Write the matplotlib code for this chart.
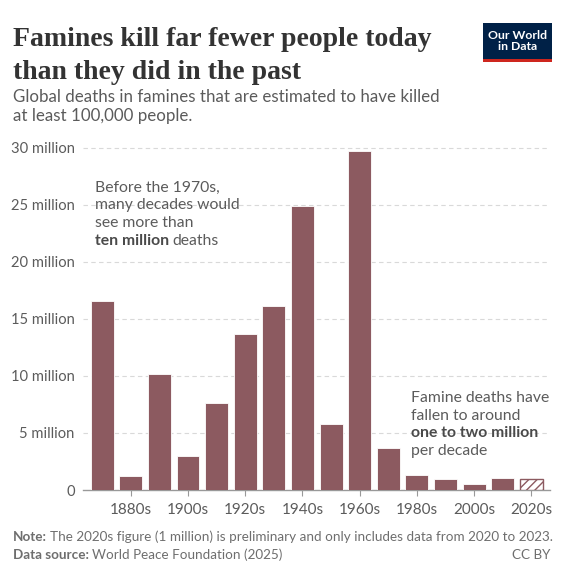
import numpy as np
import matplotlib.pyplot as plt
from matplotlib.patches import Rectangle

# data (deaths in millions per decade)
decades = ["1870s", "1880s", "1890s", "1900s", "1910s", "1920s", "1930s", "1940s",
           "1950s", "1960s", "1970s", "1980s", "1990s", "2000s", "2010s", "2020s"]
deaths = [16.6, 1.25, 10.2, 3.0, 7.65, 13.7, 16.1, 24.9,
          5.75, 29.7, 3.7, 1.3, 1.0, 0.5, 1.05, 1.0]
yticks = [0, 5, 10, 15, 20, 25, 30]
ytick_labels = ["0", "5 million", "10 million", "15 million", "20 million", "25 million", "30 million"]

bar_col = "#8c5a60"
txt_col = "#5b5b5b"
foot_col = "#6e6e6e"
plt.rcParams['font.family'] = ['Lato', 'DejaVu Sans']

W, H = 562, 576
fig = plt.figure(figsize=(W / 100, H / 100), dpi=100)
ax = fig.add_axes([83 / W, 1 - 490 / H, (550 - 83) / W, (490 - 142) / H])

x = np.arange(len(decades))
for i, v in enumerate(deaths):
    if decades[i] == "2020s":
        ax.bar(x[i], v, width=0.8, color="white", edgecolor=bar_col, hatch="////", linewidth=1, zorder=3)
    else:
        ax.bar(x[i], v, width=0.8, color=bar_col, edgecolor="white", linewidth=0.6, zorder=3)

ax.set_ylim(0, 30.5)
ax.set_xlim(-0.67, 15.65)
ax.set_yticks(yticks)
ax.set_yticklabels(ytick_labels, fontsize=10.6, color=txt_col)
ax.set_xticks(x[1::2])
ax.set_xticklabels(decades[1::2], fontsize=11, color=txt_col)
ax.tick_params(axis="y", length=0, pad=6)
ax.tick_params(axis="x", length=4, color="#999999", width=0.8, pad=5)
for yv in yticks[1:]:
    ax.axhline(yv, color="#d9d9d9", linestyle=(0, (4, 3)), linewidth=0.8, zorder=1)
for s in ["top", "right", "left"]:
    ax.spines[s].set_visible(False)
ax.spines["bottom"].set_color("#999999")
ax.spines["bottom"].set_linewidth(1)

# annotations with a bold piece
def mixed(xp, yp, bold, rest, size=11.3, c1="#4a4a4a", c2=txt_col):
    t = fig.text(xp / W, 1 - yp / H, bold, fontsize=size, fontweight="bold", color=c1, va="baseline")
    fig.canvas.draw()
    bb = t.get_window_extent()
    if rest:
        fig.text((bb.x1 + 3) / W, 1 - yp / H, rest, fontsize=size, color=c2, va="baseline")

lines1 = ["Before the 1970s,", "many decades would", "see more than"]
for k, s in enumerate(lines1):
    fig.text(95 / W, 1 - (192 + 17.5 * k) / H, s, fontsize=11.3, color=txt_col, va="baseline")
mixed(95, 192 + 17.5 * 3, "ten million", "deaths")

lines2 = ["Famine deaths have", "fallen to around"]
for k, s in enumerate(lines2):
    fig.text(411 / W, 1 - (402 + 17.5 * k) / H, s, fontsize=11.3, color=txt_col, va="baseline")
mixed(411, 402 + 17.5 * 2, "one to two million", "")
fig.text(411 / W, 1 - (402 + 17.5 * 3) / H, "per decade", fontsize=11.3, color=txt_col, va="baseline")

# title and subtitle
serif = ["Liberation Serif", "DejaVu Serif"]
fig.text(13 / W, 1 - 46 / H, "Famines kill far fewer people today", fontsize=20, fontweight="bold",
         family=serif, color="#333333", va="baseline")
fig.text(13 / W, 1 - 79 / H, "than they did in the past", fontsize=20, fontweight="bold",
         family=serif, color="#333333", va="baseline")
fig.text(13 / W, 1 - 102 / H, "Global deaths in famines that are estimated to have killed", fontsize=12.2,
         color=txt_col, va="baseline")
fig.text(13 / W, 1 - 121 / H, "at least 100,000 people.", fontsize=12.2, color=txt_col, va="baseline")

# logo
fig.patches.append(Rectangle((483 / W, 1 - 60 / H), 69 / W, 37 / H, transform=fig.transFigure,
                             facecolor="#002147", edgecolor="none"))
fig.patches.append(Rectangle((483 / W, 1 - 62 / H), 69 / W, 2.5 / H, transform=fig.transFigure,
                             facecolor="#ce261e", edgecolor="none"))
fig.text(517.5 / W, 1 - 41 / H, "Our World\nin Data", fontsize=8.8, fontweight="bold", color="white",
         ha="center", va="center", linespacing=1.0)

# footer
mixed(13, 541, "Note:", "The 2020s figure (1 million) is preliminary and only includes data from 2020 to 2023.",
      size=9.7, c1=foot_col, c2=foot_col)
mixed(13, 559, "Data source:", "World Peace Foundation (2025)", size=9.7, c1=foot_col, c2=foot_col)
fig.text(550 / W, 1 - 559 / H, "CC BY", fontsize=9.7, color=foot_col, ha="right", va="baseline")

fig.savefig("out.png", dpi=100, facecolor="white")
